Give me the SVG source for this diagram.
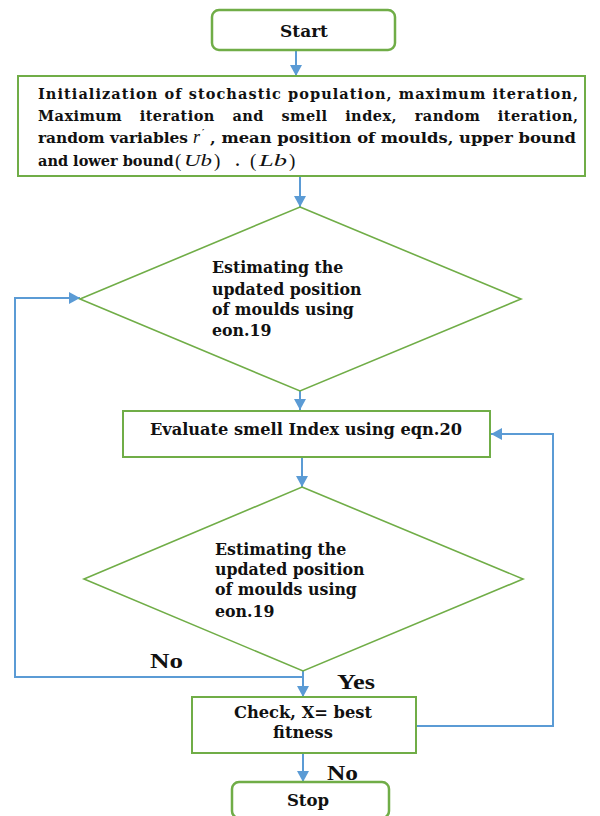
<svg xmlns="http://www.w3.org/2000/svg" width="600" height="816" viewBox="0 0 600 816">
  <defs>
    <marker id="arrow" markerUnits="userSpaceOnUse" markerWidth="12" markerHeight="12" refX="11" refY="6" orient="auto">
      <path d="M0,0 L11,6 L0,12 z" fill="#5b9bd5"/>
    </marker>
    <style>
      .box { fill: #ffffff; stroke: #70ad47; stroke-width: 2; }
      .term { fill: #ffffff; stroke: #70ad47; stroke-width: 2.5; }
      .dia { fill: #ffffff; stroke: #70ad47; stroke-width: 1.6; }
      .conn { fill: none; stroke: #5b9bd5; stroke-width: 2; }
      .t { font-family: "DejaVu Serif", "Liberation Serif", serif; font-weight: bold; fill: #111111; }
      .lbl { font-family: "Liberation Serif", "DejaVu Serif", serif; font-weight: bold; font-size: 21px; fill: #111111; }
      .math { font-family: "Liberation Serif", serif; font-style: italic; font-weight: normal; fill: #111111; }
      .paren { font-family: "Liberation Serif", serif; font-weight: normal; font-size: 19px; fill: #111111; }
    </style>
  </defs>

  <rect width="600" height="816" fill="#ffffff"/>

  <!-- connectors -->
  <g id="connectors">
    <path class="conn" d="M296,50 V76" marker-end="url(#arrow)"/>
    <path class="conn" d="M300,176 V207" marker-end="url(#arrow)"/>
    <path class="conn" d="M300,391 V410" marker-end="url(#arrow)"/>
    <path class="conn" d="M302,457 V487" marker-end="url(#arrow)"/>
    <path class="conn" d="M303,671 V697" marker-end="url(#arrow)"/>
    <path class="conn" d="M303,677 H15 V298 H80" marker-end="url(#arrow)"/>
    <path class="conn" d="M303,753 V782" marker-end="url(#arrow)"/>
    <path class="conn" d="M416,726 H553 V434 H491" marker-end="url(#arrow)"/>
  </g>

  <g id="start">
    <rect class="term" x="212" y="10" width="183" height="40" rx="7"/>
    <text class="t" x="304" y="37" font-size="17" text-anchor="middle">Start</text>
  </g>

  <g id="init">
    <rect class="box" x="18" y="76" width="567" height="100"/>
    <text class="t" x="38" y="99" font-size="14.5" textLength="540" lengthAdjust="spacing">Initialization of stochastic population, maximum iteration,</text>
    <text class="t" x="38" y="121" font-size="14.5" word-spacing="12" textLength="540" lengthAdjust="spacing">Maximum iteration and smell index, random iteration,</text>
    <text class="t" x="38" y="143" font-size="14.5" textLength="150" lengthAdjust="spacingAndGlyphs">random variables</text>
    <text class="math" x="193" y="143" font-size="18">r</text>
    <text class="t" x="202" y="136" font-size="9">′</text>
    <text class="t" x="210" y="143" font-size="14.5" textLength="366" lengthAdjust="spacingAndGlyphs">, mean position of moulds, upper bound</text>
    <text class="t" x="38" y="166" font-size="14.5">and lower bound</text>
    <text class="paren" x="175" y="167">(</text>
    <text class="math" x="184" y="166" font-size="16" textLength="28" lengthAdjust="spacingAndGlyphs">Ub</text>
    <text class="paren" x="214" y="167">)</text>
    <text class="t" x="235" y="166" font-size="14.5">.</text>
    <text class="paren" x="250" y="167">(</text>
    <text class="math" x="259" y="166" font-size="16" textLength="28" lengthAdjust="spacingAndGlyphs">Lb</text>
    <text class="paren" x="289" y="167">)</text>
  </g>

  <g id="estimate1">
    <polygon class="dia" points="300,207 521,299 300,391 80,299"/>
    <text class="t" x="212" y="273" font-size="15.8">Estimating the</text>
    <text class="t" x="212" y="295" font-size="15.8">updated position</text>
    <text class="t" x="212" y="315" font-size="15.8">of moulds using</text>
    <text class="t" x="212" y="336" font-size="15.8">eon.19</text>
  </g>

  <g id="evaluate">
    <rect class="box" x="123" y="411" width="367" height="46"/>
    <text class="t" x="306" y="435" font-size="16.2" text-anchor="middle">Evaluate smell Index using eqn.20</text>
  </g>

  <g id="estimate2">
    <polygon class="dia" points="302,487 523,579 303,671 84,579"/>
    <text class="t" x="215" y="555" font-size="15.8">Estimating the</text>
    <text class="t" x="215" y="575" font-size="15.8">updated position</text>
    <text class="t" x="215" y="595" font-size="15.8">of moulds using</text>
    <text class="t" x="215" y="617" font-size="15.8">eon.19</text>
  </g>

  <g id="check">
    <rect class="box" x="192" y="697" width="224" height="56"/>
    <text class="t" x="303" y="718" font-size="16.3" text-anchor="middle">Check, X= best</text>
    <text class="t" x="303" y="738" font-size="16.3" text-anchor="middle">fitness</text>
  </g>

  <g id="stop">
    <rect class="term" x="232" y="782" width="157" height="36" rx="7"/>
    <text class="t" x="308" y="806" font-size="16.5" text-anchor="middle">Stop</text>
  </g>

  <g id="labels">
    <text class="lbl" x="150" y="668" textLength="33" lengthAdjust="spacingAndGlyphs">No</text>
    <text class="lbl" x="337" y="689" textLength="38" lengthAdjust="spacingAndGlyphs">Yes</text>
    <text class="lbl" x="327" y="780" textLength="31" lengthAdjust="spacingAndGlyphs">No</text>
  </g>
</svg>
